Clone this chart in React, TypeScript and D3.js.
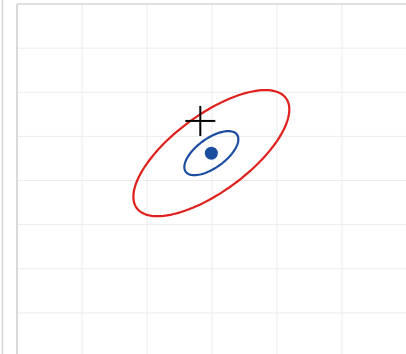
import * as d3 from "d3";

// grid ticks (data units)
const xTicks = [0, 1, 2, 3, 4, 5, 6];
const yTicks = [0, 1, 2, 3, 4, 5, 6, 7, 8];

// mean estimate and the target marker
const meanPoint = { x: 2.99, y: 4.62 };
const targetPoint = { x: 2.82, y: 5.35 };

// confidence ellipses as covariance-like matrices in data units
const ellipseNames = ["inner", "outer"];
const ellipseVarX = [0.1725, 1.439];
const ellipseVarY = [0.249, 2.042];
const ellipseCov = [0.1305, 1.186];
const ellipseColors = ["#1c4ea0", "#e0201c"];

const W = 406;
const H = 354;

const ellipsePoints = (cx, cy, vx, vy, cxy, n = 120) => {
  // eigen decomposition of the 2x2 symmetric matrix
  const tr = vx + vy;
  const det = vx * vy - cxy * cxy;
  const disc = Math.sqrt(Math.max(0, (tr * tr) / 4 - det));
  const l1 = tr / 2 + disc;
  const l2 = tr / 2 - disc;
  let e1 = cxy !== 0 ? [l1 - vy, cxy] : [1, 0];
  const len = Math.hypot(e1[0], e1[1]);
  e1 = [e1[0] / len, e1[1] / len];
  const e2 = [-e1[1], e1[0]];
  const a = Math.sqrt(l1);
  const b = Math.sqrt(Math.max(0, l2));
  return d3.range(n).map((i) => {
    const t = (i / n) * 2 * Math.PI;
    return [
      cx + a * Math.cos(t) * e1[0] + b * Math.sin(t) * e2[0],
      cy + a * Math.cos(t) * e1[1] + b * Math.sin(t) * e2[1],
    ];
  });
};

const App = () => {
  const x = d3.scaleLinear().domain([0, 6]).range([17, 407]);
  const y = d3.scaleLinear().domain([0, 8]).range([357, 4]);

  const line = d3
    .line()
    .x((d) => x(d[0]))
    .y((d) => y(d[1]))
    .curve(d3.curveLinearClosed);

  const cross = 15;

  return (
    <svg
      width={W}
      height={H}
      style={{ position: "absolute", left: 0, top: 0, display: "block", background: "#fff" }}
    >
      <line x1={2.5} x2={2.5} y1={0} y2={H} stroke="#d4d4d4" strokeWidth={1.5} />
      <g id="grid">
        {xTicks.map((t) => (
          <line key={"gx" + t} x1={x(t)} x2={x(t)} y1={y(8)} y2={y(0)} stroke="#ececec" strokeWidth={1} />
        ))}
        {yTicks.map((t) => (
          <line key={"gy" + t} x1={x(0)} x2={x(6)} y1={y(t)} y2={y(t)} stroke="#ececec" strokeWidth={1} />
        ))}
      </g>
      <line x1={x(0)} x2={x(0)} y1={y(8)} y2={H} stroke="#cfcfcf" strokeWidth={1.5} />
      <line x1={x(0)} x2={x(6)} y1={y(8)} y2={y(8)} stroke="#d8d8d8" strokeWidth={1.5} />

      {ellipseNames.map((name, i) => (
        <path
          key={name}
          d={line(ellipsePoints(meanPoint.x, meanPoint.y, ellipseVarX[i], ellipseVarY[i], ellipseCov[i]))}
          fill="none"
          stroke={ellipseColors[i]}
          strokeWidth={2.2}
        />
      ))}

      <circle cx={x(meanPoint.x)} cy={y(meanPoint.y)} r={6.5} fill={ellipseColors[0]} />

      <g stroke="#000" strokeWidth={2}>
        <line x1={x(targetPoint.x) - cross} x2={x(targetPoint.x) + cross} y1={y(targetPoint.y)} y2={y(targetPoint.y)} />
        <line x1={x(targetPoint.x)} x2={x(targetPoint.x)} y1={y(targetPoint.y) - cross} y2={y(targetPoint.y) + cross} />
      </g>
    </svg>
  );
};

export default App;
